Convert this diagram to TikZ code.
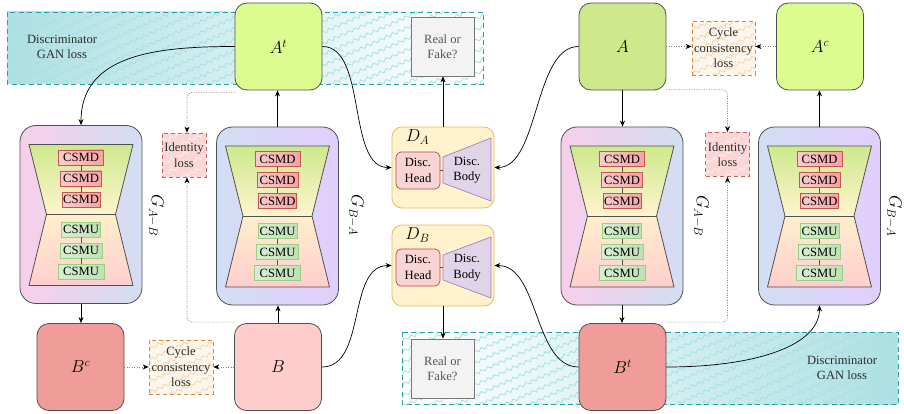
\documentclass[tikz,border=0pt]{standalone}
\usepackage{fontspec}
\setmainfont{Liberation Serif}
\usetikzlibrary{arrows.meta,decorations.pathmorphing}

\definecolor{cAt}{RGB}{221,252,144}
\definecolor{cA}{RGB}{205,233,139}
\definecolor{cB}{RGB}{255,204,204}
\definecolor{cBt}{RGB}{240,156,152}
\definecolor{gPink}{RGB}{248,206,234}
\definecolor{gBlue}{RGB}{210,222,243}
\definecolor{gLav}{RGB}{226,206,252}
\definecolor{hgTop}{RGB}{205,233,140}
\definecolor{hgMid}{RGB}{255,244,206}
\definecolor{hgMidB}{RGB}{255,238,204}
\definecolor{hgBot}{RGB}{255,206,206}
\definecolor{csmdF}{RGB}{246,162,162}
\definecolor{csmdL}{RGB}{250,204,204}
\definecolor{csmdD}{RGB}{200,85,85}
\definecolor{csmuF}{RGB}{190,225,180}
\definecolor{csmuL}{RGB}{216,238,210}
\definecolor{csmuD}{RGB}{150,208,128}
\definecolor{dF}{RGB}{255,242,204}
\definecolor{dD}{RGB}{228,190,100}
\definecolor{headF}{RGB}{248,212,212}
\definecolor{headD}{RGB}{190,70,70}
\definecolor{bodyF}{RGB}{225,212,232}
\definecolor{bodyD}{RGB}{160,128,190}
\definecolor{rfF}{RGB}{243,243,243}
\definecolor{rfD}{RGB}{120,120,120}
\definecolor{rfT}{RGB}{85,85,85}
\definecolor{tealBg}{RGB}{174,224,227}
\definecolor{tealLn}{RGB}{166,224,229}
\definecolor{tealD}{RGB}{40,160,165}
\definecolor{idF}{RGB}{250,214,214}
\definecolor{idLn}{RGB}{255,238,238}
\definecolor{idD}{RGB}{205,95,95}
\definecolor{cyF}{RGB}{252,246,236}
\definecolor{cyLn}{RGB}{250,212,170}
\definecolor{cyD}{RGB}{205,140,70}
\definecolor{edge}{RGB}{80,80,80}
\definecolor{txtD}{RGB}{45,45,45}

\newcommand\lbl{\fontsize{18.5}{22}\selectfont}
\newcommand\dfont{\fontsize{18}{22}\selectfont}

% zigzag hatch inside a rectangle: x1 y1 x2 y2 colour
\newcommand\zzfill[5]{%
  \begin{scope}
    \clip (#1,#2) rectangle (#3,#4);
    \pgfmathsetmacro\zzw{#3-#1}
    \pgfmathsetmacro\zzend{#4+0.45*\zzw+12}
    \pgfmathsetmacro\zzsec{#2+11}
    \foreach \c in {#2,\zzsec,...,\zzend}
      \draw[#5, line width=0.8pt, decorate,
            decoration={zigzag,segment length=7pt,amplitude=1.6pt}]
        (#1-5,\c) -- (#3+5,\c-0.45*\zzw-4.5);
  \end{scope}}

% hourglass body of a generator
\newcommand\hglass[2]{%
  \shade[top color=hgTop, bottom color=hgMid]
    (#1-52,#2-70) -- (#1+52,#2-70) -- (#1+34.5,#2) -- (#1-34.5,#2) -- cycle;
  \shade[top color=hgMidB, bottom color=hgBot]
    (#1-34.5,#2) -- (#1+34.5,#2) -- (#1+52,#2+71) -- (#1-52,#2+71) -- cycle;
  \draw[edge, line width=0.8pt, line join=round]
    (#1-52,#2-70) -- (#1+52,#2-70) -- (#1+34.5,#2) -- (#1+52,#2+71)
    -- (#1-52,#2+71) -- (#1-34.5,#2) -- cycle;
  \draw[edge, line width=0.8pt] (#1-34.5,#2) -- (#1+34.5,#2);}

% generator: name cx cy leftcolour rightcolour
\newcommand\gen[5]{%
  \node[genbox, left color=#4, right color=#5] (#1) at (#2,#3) {};
  \hglass{#2}{#3}
  \node[csmd, minimum width=45pt] (#1d1) at (#2,#3-57) {CSMD};
  \node[csmd, minimum width=41pt] (#1d2) at (#2,#3-36) {CSMD};
  \node[csmd, minimum width=38pt] (#1d3) at (#2,#3-15) {CSMD};
  \node[csmu, minimum width=39pt] (#1u1) at (#2,#3+15) {CSMU};
  \node[csmu, minimum width=42pt] (#1u2) at (#2,#3+36) {CSMU};
  \node[csmu, minimum width=46pt] (#1u3) at (#2,#3+57) {CSMU};
  \draw[edge, line width=0.7pt] (#1d1) -- (#1d2) (#1d2) -- (#1d3)
    (#1u1) -- (#1u2) (#1u2) -- (#1u3);}

\tikzset{
  imgbox/.style={draw=edge, line width=0.8pt, rounded corners=12pt,
    minimum width=87pt, minimum height=87pt, inner sep=0pt, font=\lbl},
  genbox/.style={draw=edge, line width=0.8pt, rounded corners=16pt,
    minimum width=122pt, minimum height=178pt, inner sep=0pt},
  csmd/.style={draw=csmdD, line width=0.7pt, left color=csmdL, right color=csmdF,
    minimum height=15pt, inner sep=0pt},
  csmu/.style={draw=csmuD, line width=0.7pt, left color=csmuL, right color=csmuF,
    minimum height=15pt, inner sep=0pt},
  dbox/.style={draw=dD, fill=dF, line width=0.8pt, rounded corners=10pt,
    minimum width=102pt, minimum height=81pt, inner sep=0pt},
  headbox/.style={draw=headD, fill=headF, line width=0.7pt, rounded corners=5pt,
    minimum width=44pt, minimum height=37pt, align=center, inner sep=0pt},
  rfbox/.style={draw=rfD, fill=rfF, line width=0.8pt, minimum width=63pt,
    minimum height=59pt, align=center, text=rfT, inner sep=0pt},
  lossnode/.style={dash pattern=on 4pt off 3pt, line width=0.8pt, align=center,
    inner sep=0pt, text=txtD},
  arr/.style={-{Stealth[length=6pt,width=5pt]}, line width=0.7pt},
  dotarr/.style={draw=gray, line width=0.7pt, dash pattern=on 1pt off 1.5pt,
    -{Stealth[length=6pt,width=5pt,color=black]}},
  dotline/.style={draw=gray, line width=0.7pt, dash pattern=on 1pt off 1.5pt,
    rounded corners=5pt, -{Stealth[length=6pt,width=5pt,color=black]}},
  ganlbl/.style={align=center, text=txtD},
}

\begin{document}
\begin{tikzpicture}[x=1pt, y=-1pt, font=\fontsize{12.6}{15.5}\selectfont]
\useasboundingbox (0,0) rectangle (904,414);

% ---------- discriminator GAN loss regions ----------
\shade[left color=tealBg, right color=white] (7,12) rectangle (483,84);
\zzfill{7}{12}{483}{84}{tealLn}
\draw[tealD, line width=0.9pt, dash pattern=on 5pt off 3.5pt] (7,12) rectangle (483,84);
\node[ganlbl] (ganT) at (62,47) {Discriminator\\GAN loss};

\shade[left color=white, right color=tealBg] (402,332) rectangle (898,404);
\zzfill{402}{332}{898}{404}{tealLn}
\draw[tealD, line width=0.9pt, dash pattern=on 5pt off 3.5pt] (402,332) rectangle (898,404);
\node[ganlbl] (ganB) at (842,368) {Discriminator\\GAN loss};

% ---------- image nodes ----------
\node[imgbox, fill=cAt] (At) at (278.5,46.5) {$A^t$};
\node[imgbox, fill=cA]  (A)  at (622.5,46.5) {$A$};
\node[imgbox, fill=cAt] (Ac) at (820,46.5)   {$A^c$};
\node[imgbox, fill=cBt] (Bc) at (80.5,367)   {$B^c$};
\node[imgbox, fill=cB]  (B)  at (278,367)    {$B$};
\node[imgbox, fill=cBt] (Bt) at (622.5,367)  {$B^t$};

% ---------- real or fake ----------
\node[rfbox] (RFt) at (442.5,46.5) {Real or\\Fake?};
\node[rfbox] (RFb) at (442.5,368.5) {Real or\\Fake?};

% ---------- loss boxes ----------
\fill[cyF] (692,21) rectangle (755,75);
\zzfill{692}{21}{755}{75}{cyLn}
\node[lossnode, draw=cyD, minimum width=63pt, minimum height=54pt] (cyT) at (723.5,48) {Cycle\\consistency\\loss};

\fill[cyF] (149,340) rectangle (213,394);
\zzfill{149}{340}{213}{394}{cyLn}
\node[lossnode, draw=cyD, minimum width=64pt, minimum height=54pt] (cyB) at (181,367) {Cycle\\consistency\\loss};

\fill[idF] (162,133) rectangle (206,177);
\zzfill{162}{133}{206}{177}{idLn}
\node[lossnode, draw=idD, minimum width=44pt, minimum height=44pt] (idL) at (184,155) {Identity\\loss};

\fill[idF] (705.5,132.5) rectangle (749.5,176.5);
\zzfill{705.5}{132.5}{749.5}{176.5}{idLn}
\node[lossnode, draw=idD, minimum width=44pt, minimum height=44pt] (idR) at (727.5,154.5) {Identity\\loss};

% ---------- generators ----------
\gen{GABl}{81}{214.5}{gPink}{gBlue}
\gen{GBAl}{277.5}{216}{gBlue}{gLav}
\gen{GABr}{622}{216}{gPink}{gBlue}
\gen{GBAr}{819.5}{216}{gBlue}{gLav}

\node[rotate=-90, font=\lbl] (labGABl) at (156,215.5) {$G_{A-B}$};
\node[rotate=-90, font=\lbl] (labGBAl) at (356,215.5) {$G_{B-A}$};
\node[rotate=-90, font=\lbl] (labGABr) at (701,216) {$G_{A-B}$};
\node[rotate=-90, font=\lbl] (labGBAr) at (894,216) {$G_{B-A}$};

% ---------- discriminators ----------
\node[dbox] (DA) at (443,167.5) {};
\node[font=\dfont, inner sep=0pt] (DAlab) at (417.5,137) {$D_A$};
\node[headbox] (DAh) at (418,170.5) {Disc.\\Head};
\draw[draw=bodyD, fill=bodyF, line width=0.7pt, line join=round]
  (443,157) -- (491,138) -- (491,201) -- (443,183) -- cycle;
\node[align=center, inner sep=0pt] (DAb) at (467,170) {Disc.\\Body};
\coordinate (DAbl) at (443,170);
\draw[edge, line width=0.7pt] (DAh.east |- DAbl) -- (DAbl);

\node[dbox] (DB) at (443,265.5) {};
\node[font=\dfont, inner sep=0pt] (DBlab) at (417.5,235) {$D_B$};
\node[headbox] (DBh) at (418,267.5) {Disc.\\Head};
\draw[draw=bodyD, fill=bodyF, line width=0.7pt, line join=round]
  (443,255) -- (491,237) -- (491,298) -- (443,280) -- cycle;
\node[align=center, inner sep=0pt] (DBb) at (467,267.5) {Disc.\\Body};
\coordinate (DBbl) at (443,267.5);
\draw[edge, line width=0.7pt] (DBh.east |- DBbl) -- (DBbl);

% ---------- solid connectors ----------
\draw[arr] (At.west) .. controls +(-80,0) and +(0,-70) .. (GABl.north);
\draw[arr] (At.east) .. controls +(45,0) and +(-45,0) .. (DA.west);
\draw[arr] (A.west) .. controls +(-45,0) and +(45,0) .. (DA.east);
\draw[arr] (B.east) .. controls +(45,0) and +(-45,0) .. (DB.west);
\draw[arr] (Bt.west) .. controls +(-45,0) and +(45,0) .. (DB.east);
\draw[arr] (Bt.east) .. controls +(90,0) and +(0,40) .. (GBAr.south);

\draw[arr] (GBAl.north) -- (GBAl.north |- At.south);
\draw[arr] (A.south) -- (A.south |- GABr.north);
\draw[arr] (GBAr.north) -- (GBAr.north |- Ac.south);
\draw[arr] (GABl.south) -- (GABl.south |- Bc.north);
\draw[arr] (B.north) -- (B.north |- GBAl.south);
\draw[arr] (GABr.south) -- (GABr.south |- Bt.north);
\draw[arr] (DA.north) -- (DA.north |- RFt.south);
\draw[arr] (DB.south) -- (DB.south |- RFb.north);

% ---------- dotted connectors ----------
\draw[dotarr] (A.east) -- (A.east -| cyT.west);
\draw[dotarr] (Ac.west) -- (Ac.west -| cyT.east);
\draw[dotarr] (Bc.east) -- (cyB.west);
\draw[dotarr] (B.west) -- (cyB.east);

\draw[dotline] ([yshift=-2pt]At.south west) -| ([xshift=3pt]idL.north);
\draw[dotline] ([yshift=1pt]B.north west) -| ([xshift=3pt]idL.south);
\draw[dotline] ([yshift=1pt]A.south east) -| (idR.north);
\draw[dotline] ([yshift=1pt]Bt.north east) -| (idR.south);
\end{tikzpicture}
\end{document}
